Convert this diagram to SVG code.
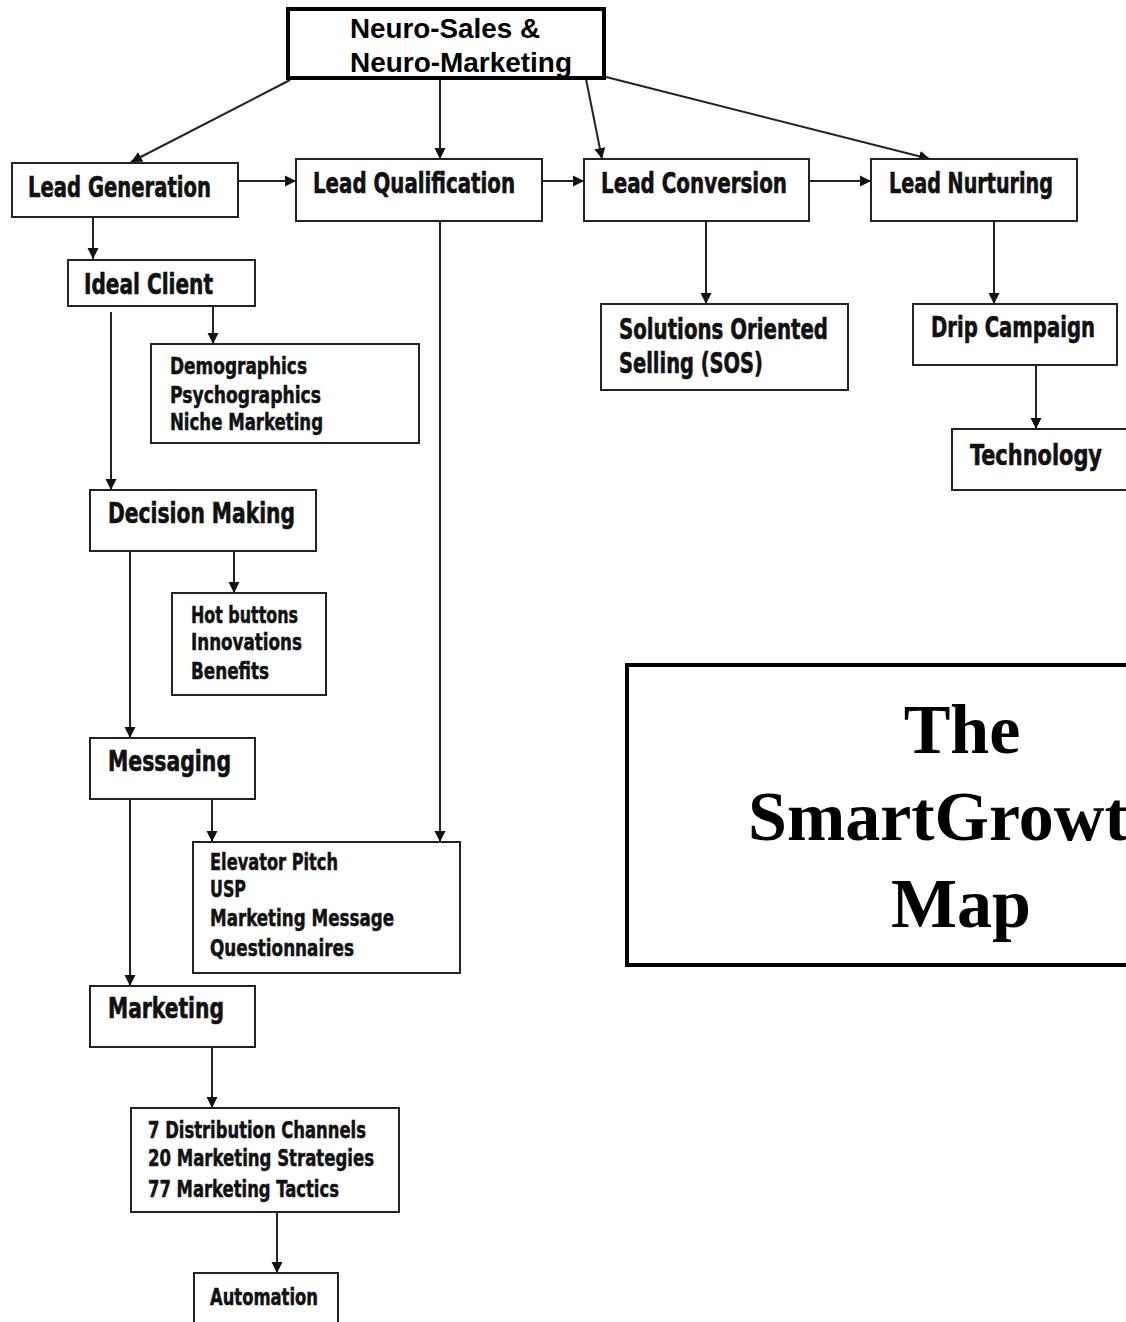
<svg xmlns="http://www.w3.org/2000/svg" width="1126" height="1322" viewBox="0 0 1126 1322">
<style>
.box{fill:#fff;stroke:#222;stroke-width:2}
.thick{fill:#fff;stroke:#000;stroke-width:4}
.lbl{font-family:"Liberation Sans Narrow","DejaVu Sans Condensed","Liberation Sans",sans-serif;font-weight:bold;font-size:28px;fill:#111;stroke:#111;stroke-width:0.6}
.sub{font-family:"Liberation Sans Narrow","DejaVu Sans Condensed","Liberation Sans",sans-serif;font-weight:bold;font-size:23px;fill:#111;stroke:#111;stroke-width:0.5}
.top{font-family:"Liberation Sans",Arial,sans-serif;font-weight:bold;font-size:27px;fill:#000}
.title{font-family:"Liberation Serif","Times New Roman",serif;font-weight:bold;font-size:70px;fill:#000}
.conn{stroke:#222;stroke-width:2;fill:none;marker-end:url(#arr)}
</style>
<defs>
<marker id="arr" markerUnits="userSpaceOnUse" markerWidth="12" markerHeight="12" refX="11" refY="6" orient="auto">
<path d="M0,0.5 L11,6 L0,11.5 z" fill="#111"/>
</marker>
</defs>
<rect width="1126" height="1322" fill="#fff"/>
<g id="connectors">
<path class="conn" d="M290,80 L131,162"/>
<path class="conn" d="M440,78 L440,159"/>
<path class="conn" d="M586,79 L602,159"/>
<path class="conn" d="M606,77 L930,159"/>
<path class="conn" d="M238,181 L296,181"/>
<path class="conn" d="M542,181 L584,181"/>
<path class="conn" d="M809,181 L871,181"/>
<path class="conn" d="M93,217 L93,259"/>
<path class="conn" d="M213,306 L213,344"/>
<path class="conn" d="M111,312 L111,490"/>
<path class="conn" d="M440,221 L440,842"/>
<path class="conn" d="M234,551 L234,593"/>
<path class="conn" d="M130,551 L130,738"/>
<path class="conn" d="M212,799 L212,842"/>
<path class="conn" d="M130,799 L130,986"/>
<path class="conn" d="M212,1047 L212,1108"/>
<path class="conn" d="M277,1212 L277,1273"/>
<path class="conn" d="M706,221 L706,304"/>
<path class="conn" d="M994,221 L994,304"/>
<path class="conn" d="M1036,365 L1036,429"/>
</g>
<g id="neuro">
<rect class="thick" x="288" y="9" width="316" height="69"/>
<text class="top" x="350" y="38" textLength="190" lengthAdjust="spacingAndGlyphs">Neuro-Sales &amp;</text>
<text class="top" x="350" y="72" textLength="222" lengthAdjust="spacingAndGlyphs">Neuro-Marketing</text>
</g>
<g id="lead-generation">
<rect class="box" x="12" y="163" width="226" height="54"/>
<text class="lbl" x="28" y="197" textLength="183" lengthAdjust="spacingAndGlyphs">Lead Generation</text>
</g>
<g id="lead-qualification">
<rect class="box" x="296" y="159" width="246" height="62"/>
<text class="lbl" x="313" y="193" textLength="202" lengthAdjust="spacingAndGlyphs">Lead Qualification</text>
</g>
<g id="lead-conversion">
<rect class="box" x="584" y="159" width="225" height="62"/>
<text class="lbl" x="601" y="193" textLength="186" lengthAdjust="spacingAndGlyphs">Lead Conversion</text>
</g>
<g id="lead-nurturing">
<rect class="box" x="871" y="159" width="206" height="62"/>
<text class="lbl" x="889" y="193" textLength="164" lengthAdjust="spacingAndGlyphs">Lead Nurturing</text>
</g>
<g id="ideal-client">
<rect class="box" x="68" y="260" width="187" height="46"/>
<text class="lbl" x="84" y="294" textLength="129" lengthAdjust="spacingAndGlyphs">Ideal Client</text>
</g>
<g id="demographics">
<rect class="box" x="151" y="344" width="268" height="99"/>
<text class="sub" x="170" y="374" textLength="137" lengthAdjust="spacingAndGlyphs">Demographics</text>
<text class="sub" x="170" y="403" textLength="151" lengthAdjust="spacingAndGlyphs">Psychographics</text>
<text class="sub" x="170" y="430" textLength="153" lengthAdjust="spacingAndGlyphs">Niche Marketing</text>
</g>
<g id="decision-making">
<rect class="box" x="90" y="490" width="226" height="61"/>
<text class="lbl" x="108" y="523" textLength="187" lengthAdjust="spacingAndGlyphs">Decision Making</text>
</g>
<g id="hot-buttons">
<rect class="box" x="172" y="593" width="154" height="102"/>
<text class="sub" x="191" y="623" textLength="107" lengthAdjust="spacingAndGlyphs">Hot buttons</text>
<text class="sub" x="191" y="650" textLength="111" lengthAdjust="spacingAndGlyphs">Innovations</text>
<text class="sub" x="191" y="679" textLength="78" lengthAdjust="spacingAndGlyphs">Benefits</text>
</g>
<g id="messaging">
<rect class="box" x="90" y="738" width="165" height="61"/>
<text class="lbl" x="108" y="771" textLength="123" lengthAdjust="spacingAndGlyphs">Messaging</text>
</g>
<g id="elevator-pitch">
<rect class="box" x="193" y="842" width="267" height="131"/>
<text class="sub" x="210" y="870" textLength="128" lengthAdjust="spacingAndGlyphs">Elevator Pitch</text>
<text class="sub" x="210" y="897" textLength="36" lengthAdjust="spacingAndGlyphs">USP</text>
<text class="sub" x="210" y="926" textLength="184" lengthAdjust="spacingAndGlyphs">Marketing Message</text>
<text class="sub" x="210" y="956" textLength="144" lengthAdjust="spacingAndGlyphs">Questionnaires</text>
</g>
<g id="marketing">
<rect class="box" x="90" y="986" width="165" height="61"/>
<text class="lbl" x="108" y="1018" textLength="116" lengthAdjust="spacingAndGlyphs">Marketing</text>
</g>
<g id="distribution">
<rect class="box" x="131" y="1108" width="268" height="104"/>
<text class="sub" x="148" y="1138" textLength="218" lengthAdjust="spacingAndGlyphs">7 Distribution Channels</text>
<text class="sub" x="148" y="1166" textLength="226" lengthAdjust="spacingAndGlyphs">20 Marketing Strategies</text>
<text class="sub" x="148" y="1197" textLength="191" lengthAdjust="spacingAndGlyphs">77 Marketing Tactics</text>
</g>
<g id="automation">
<rect class="box" x="194" y="1273" width="144" height="62"/>
<text class="sub" x="210" y="1305" textLength="108" lengthAdjust="spacingAndGlyphs">Automation</text>
</g>
<g id="sos">
<rect class="box" x="601" y="304" width="247" height="86"/>
<text class="lbl" x="619" y="339" textLength="209" lengthAdjust="spacingAndGlyphs">Solutions Oriented</text>
<text class="lbl" x="619" y="373" textLength="144" lengthAdjust="spacingAndGlyphs">Selling (SOS)</text>
</g>
<g id="drip-campaign">
<rect class="box" x="913" y="304" width="204" height="61"/>
<text class="lbl" x="931" y="337" textLength="164" lengthAdjust="spacingAndGlyphs">Drip Campaign</text>
</g>
<g id="technology">
<rect class="box" x="952" y="429" width="190" height="61"/>
<text class="lbl" x="970" y="465" textLength="132" lengthAdjust="spacingAndGlyphs">Technology</text>
</g>
<g id="title">
<rect class="thick" x="627" y="665" width="520" height="300"/>
<text class="title" x="962" y="753" text-anchor="middle">The</text>
<text class="title" x="748" y="840">SmartGrowth</text>
<text class="title" x="961" y="927" text-anchor="middle">Map</text>
</g>
</svg>
